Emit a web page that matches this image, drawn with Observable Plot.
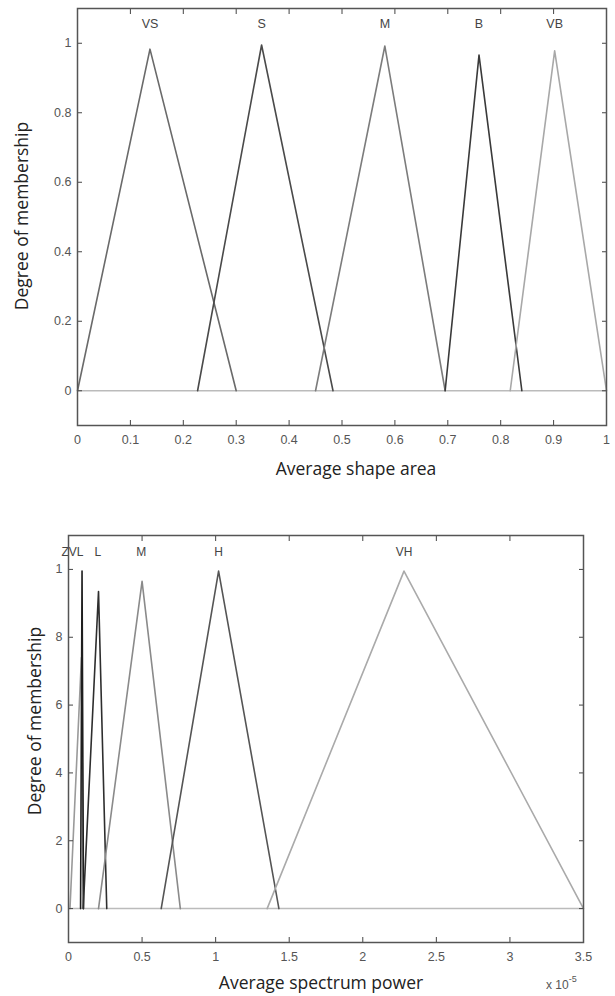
<!DOCTYPE html>
<html>
<head>
<meta charset="utf-8">
<script src="https://cdn.jsdelivr.net/npm/d3@7"></script>
<script src="https://cdn.jsdelivr.net/npm/@observablehq/plot@0.6"></script>
<style>
  html, body { margin: 0; padding: 0; background: #fff; }
  #wrap { position: relative; width: 615px; height: 996px; overflow: hidden; }
  #top, #bottom { position: absolute; left: 0; }
  #top { top: 0; }
  #bottom { top: 490px; }
  #exp { position: absolute; left: 546px; top: 976px; font: 12px "Liberation Sans", Arial, sans-serif; color: #555; }
  #exp sup { font-size: 9px; position: relative; top: -2px; }
</style>
</head>
<body>
<div id="wrap">
  <div id="top"></div>
  <div id="bottom"></div>
  <div id="exp">x 10<sup>-5</sup></div>
</div>
<script>
// ---- Top chart: Average shape area ----
const areaNames  = ["VS", "S", "M", "B", "VB"];
const areaLeft   = [0.0, 0.227, 0.45, 0.695, 0.818];
const areaCenter = [0.137, 0.348, 0.581, 0.759, 0.902];
const areaRight  = [0.30, 0.483, 0.695, 0.84, 1.0];
const areaPeak   = [0.983, 0.995, 0.992, 0.966, 0.978];
const areaColors = ["#6a6a6a", "#4a4a4a", "#7c7c7c", "#3a3a3a", "#a8a8a8"];
const areaLabelX = [0.137, 0.348, 0.581, 0.759, 0.902];
const areaXTicks = [0, 0.1, 0.2, 0.3, 0.4, 0.5, 0.6, 0.7, 0.8, 0.9, 1];
const areaYTicks = [0, 0.2, 0.4, 0.6, 0.8, 1];

// ---- Bottom chart: Average spectrum power (x 10^-5) ----
const powNames  = ["Z", "VL", "L", "M", "H", "VH"];
const powLeft   = [0.01, 0.082, 0.10, 0.204, 0.63, 1.35];
const powCenter = [0.088, 0.092, 0.204, 0.50, 1.02, 2.28];
const powRight  = [0.10, 0.102, 0.26, 0.76, 1.43, 3.5];
const powPeak   = [0.74, 0.995, 0.935, 0.965, 0.995, 0.995];
const powColors = ["#9a9a9a", "#1e1e1e", "#2e2e2e", "#8a8a8a", "#555555", "#aaaaaa"];
const powLabels  = ["Z", "VL", "L", "M", "H", "VH"];
const powLabelX  = [-0.022, 0.052, 0.2, 0.495, 1.02, 2.28];
const powXTicks = [0, 0.5, 1, 1.5, 2, 2.5, 3, 3.5];
const powYTicks = [0, 0.2, 0.4, 0.6, 0.8, 1];
const powYTickText = ["0", "2", "4", "6", "8", "1"];

function triangles(names, L, C, R, P, colors) {
  const pts = [];
  names.forEach((n, i) => {
    pts.push({name: n, x: L[i], y: 0, color: colors[i]});
    pts.push({name: n, x: C[i], y: P[i], color: colors[i]});
    pts.push({name: n, x: R[i], y: 0, color: colors[i]});
  });
  return pts;
}

const tickFont = "Liberation Sans, Arial, sans-serif";
const titleFont = "Open Sans, Noto Sans, sans-serif";

function frameAxes(xTicks, yTicks, yFmt, xFmt) {
  return [
    Plot.axisX({anchor: "bottom", ticks: xTicks, tickSize: -5, tickPadding: 15, tickFormat: xFmt, fontSize: 12.5, fill: "#555", stroke: "#444", label: null}),
    Plot.axisX({anchor: "top", ticks: xTicks, tickSize: -5, tickFormat: () => "", stroke: "#444", label: null}),
    Plot.axisY({anchor: "left", ticks: yTicks, tickSize: -5, tickPadding: 11, tickFormat: yFmt, fontSize: 12.5, fill: "#555", stroke: "#444", label: null}),
    Plot.axisY({anchor: "right", ticks: yTicks, tickSize: -5, tickFormat: () => "", stroke: "#444", label: null})
  ];
}

const topData = triangles(areaNames, areaLeft, areaCenter, areaRight, areaPeak, areaColors);
const topLabels = areaNames.map((n, i) => ({name: n, x: areaLabelX[i], y: 1.055}));

const topPlot = Plot.plot({
  width: 615, height: 490,
  marginTop: 8, marginBottom: 65, marginLeft: 77, marginRight: 9,
  style: {fontFamily: tickFont, background: "#fff"},
  x: {domain: [0, 1]},
  y: {domain: [-0.1, 1.1]},
  marks: [
    Plot.ruleY([0], {stroke: "#bbb", strokeWidth: 1.5}),
    Plot.line(topData, {x: "x", y: "y", z: "name", stroke: "color", strokeWidth: 1.6}),
    Plot.text(topLabels, {x: "x", y: "y", text: "name", fontSize: 12.5, fill: "#444"}),
    ...frameAxes(areaXTicks, areaYTicks, d => String(d), d => String(d)),
    Plot.frame({stroke: "#555", strokeWidth: 1.5}),
    Plot.text(["Average shape area"], {frameAnchor: "bottom", dx: 14, dy: 44, fontSize: 17.5, fontFamily: titleFont, fill: "#222", lineAnchor: "middle"}),
    Plot.text(["Degree of membership"], {frameAnchor: "left", textAnchor: "middle", lineAnchor: "middle", dx: -55, dy: -1, rotate: -90, fontSize: 17.5, fontFamily: titleFont, fill: "#222"})
  ]
});
document.getElementById("top").appendChild(topPlot);

const botData = triangles(powNames, powLeft, powCenter, powRight, powPeak, powColors);
const botLabels = powLabels.map((n, i) => ({name: n, x: powLabelX[i], y: 1.05}));

const botPlot = Plot.plot({
  width: 615, height: 506,
  marginTop: 45, marginBottom: 54, marginLeft: 68, marginRight: 32,
  style: {fontFamily: tickFont, background: "#fff"},
  x: {domain: [0, 3.5]},
  y: {domain: [-0.1, 1.1]},
  marks: [
    Plot.ruleY([0], {stroke: "#bbb", strokeWidth: 1.5}),
    Plot.line(botData, {x: "x", y: "y", z: "name", stroke: "color", strokeWidth: 1.6}),
    Plot.text(botLabels, {x: "x", y: "y", text: "name", fontSize: 12, fill: "#444"}),
    ...frameAxes(powXTicks, powYTicks, d => powYTickText[powYTicks.indexOf(d)], d => String(d)),
    Plot.frame({stroke: "#555", strokeWidth: 1.5}),
    Plot.text(["Average spectrum power"], {frameAnchor: "bottom", dx: -5, dy: 41, fontSize: 17.5, fontFamily: titleFont, fill: "#222", lineAnchor: "middle"}),
    Plot.text(["Degree of membership"], {frameAnchor: "left", textAnchor: "middle", lineAnchor: "middle", dx: -33, dy: -18, rotate: -90, fontSize: 17.5, fontFamily: titleFont, fill: "#222"})
  ]
});
document.getElementById("bottom").appendChild(botPlot);
</script>
</body>
</html>
